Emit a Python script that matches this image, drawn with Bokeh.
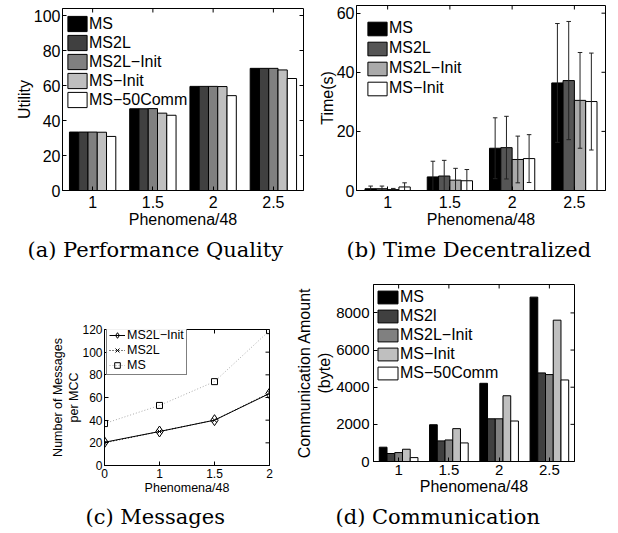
import math
from bokeh.plotting import figure
from bokeh.layouts import row, column
from bokeh.models import Range1d, FixedTicker, Legend, LegendItem, Title
from bokeh.embed import file_html
from bokeh.resources import INLINE

# ---------------- data ----------------
phenomena = [1, 1.5, 2, 2.5]

# (a) Performance Quality : Utility
util_names = ["MS", "MS2L", "MS2L\u2212Init", "MS\u2212Init", "MS\u221250Comm"]
util_ms = [33.4, 46.7, 59.5, 69.8]
util_ms2l = [33.4, 46.7, 59.5, 69.8]
util_ms2l_init = [33.4, 46.8, 59.5, 69.8]
util_ms_init = [33.3, 44.2, 59.4, 68.9]
util_ms_50comm = [30.9, 43.0, 54.2, 64.0]
util_ticks = [0, 20, 40, 60, 80, 100]

# (b) Time Decentralized : Time(s) with error bars
time_names = ["MS", "MS2L", "MS2L\u2212Init", "MS\u2212Init"]
time_ms = [0.6, 4.6, 14.3, 36.4]
time_ms2l = [0.6, 4.9, 14.5, 37.2]
time_ms2l_init = [0.3, 3.5, 10.5, 30.5]
time_ms_init = [1.2, 3.3, 10.8, 30.1]
time_err_ms = [0.9, 5.3, 10.3, 20.1]
time_err_ms2l = [0.9, 5.3, 10.6, 20.0]
time_err_ms2l_init = [0.4, 4.0, 7.9, 16.2]
time_err_ms_init = [1.4, 3.8, 8.1, 16.4]
time_ticks = [0, 20, 40, 60]

# (c) Messages
msg_x_labels = ["0", "1", "1.5", "2"]
msg_ms2l_init = [20.5, 30.0, 40.0, 63.5]
msg_ms2l = [20.0, 30.0, 40.0, 64.0]
msg_ms = [37.0, 53.0, 74.0, 119.0]
msg_ticks = [0, 20, 40, 60, 80, 100, 120]

# (d) Communication
comm_names = ["MS", "MS2l", "MS2L\u2212Init", "MS\u2212Init", "MS\u221250Comm"]
comm_ms = [770, 1980, 4210, 8850]
comm_ms2l = [430, 1110, 2300, 4770]
comm_ms2l_init = [480, 1160, 2300, 4680]
comm_ms_init = [660, 1770, 3540, 7610]
comm_ms_50comm = [210, 1000, 2180, 4390]
comm_ticks = [0, 2000, 4000, 6000, 8000]

# ---------------- styling ----------------
GRAY5 = ["#000000", "#404040", "#808080", "#bfbfbf", "#ffffff"]
GRAY4 = ["#000000", "#555555", "#aaaaaa", "#ffffff"]
SANS = "Liberation Sans"
SERIF = "DejaVu Serif"


def base_fig(width, height, left, right, top, bottom, xr, yr):
    p = figure(width=width, height=height, x_range=Range1d(*xr), y_range=Range1d(*yr),
               output_backend="svg", toolbar_location=None, frame_align=False,
               min_border_left=left, min_border_right=right,
               min_border_top=top, min_border_bottom=bottom)
    p.grid.visible = False
    p.outline_line_color = "black"
    p.outline_line_width = 1
    p.background_fill_color = "white"
    p.border_fill_color = "white"
    return p


def style_axes(p, xticks, yticks, tfs, lfs, xlabel, ylabel, xstand, ystand, xlab_stand, ylab_stand,
               xoverrides=None):
    p.xaxis.ticker = FixedTicker(ticks=xticks)
    p.yaxis.ticker = FixedTicker(ticks=yticks)
    if xoverrides:
        p.xaxis.major_label_overrides = xoverrides
    for ax in p.xaxis + p.yaxis:
        ax.major_tick_in = 4
        ax.major_tick_out = 0
        ax.minor_tick_line_color = None
        ax.axis_line_color = "black"
        ax.major_tick_line_color = "black"
        ax.major_label_text_font = SANS
        ax.major_label_text_font_size = tfs
        ax.major_label_text_color = "black"
        ax.axis_label_text_font = SANS
        ax.axis_label_text_font_size = lfs
        ax.axis_label_text_font_style = "normal"
        ax.axis_label_text_color = "black"
    p.xaxis.axis_label = xlabel
    p.yaxis.axis_label = ylabel
    p.xaxis.major_label_standoff = xstand
    p.yaxis.major_label_standoff = ystand
    p.xaxis.axis_label_standoff = xlab_stand
    p.yaxis.axis_label_standoff = ylab_stand
    # mirrored inward ticks on the top and right edges of the box (clipped to the frame)
    xr, yr = p.x_range, p.y_range
    p.scatter(x=[xr.end] * len(yticks), y=yticks, marker="dash", size=8,
              line_color="black", line_width=1)
    p.scatter(x=xticks, y=[yr.end] * len(xticks), marker="dash", size=8, angle=math.pi / 2,
              line_color="black", line_width=1)


def caption(p, text, offset, standoff):
    p.add_layout(Title(text=text, align="left", offset=offset, standoff=standoff,
                       text_font=SERIF, text_font_size="21px", text_font_style="normal",
                       text_color="black"), "below")


def bar_series(p, groups, series, names, colors, errs=None):
    n = len(series)
    spacing = groups[1] - groups[0]
    gw = spacing * min(0.8, n / (n + 1.5))
    bw = gw / n
    items = []
    for i, (vals, name, col) in enumerate(zip(series, names, colors)):
        xs = [g + (i - (n - 1) / 2) * bw for g in groups]
        r = p.vbar(x=xs, top=vals, width=bw, bottom=0, fill_color=col,
                   line_color="black", line_width=1)
        items.append(LegendItem(label=name, renderers=[r]))
        if errs is not None:
            e = errs[i]
            lo = [v - d for v, d in zip(vals, e)]
            hi = [v + d for v, d in zip(vals, e)]
            cap = bw * 0.2
            p.segment(x0=xs, y0=lo, x1=xs, y1=hi, line_color="#222222", line_width=1)
            p.segment(x0=[x - cap for x in xs], y0=hi, x1=[x + cap for x in xs], y1=hi,
                      line_color="#222222", line_width=1)
            p.segment(x0=[x - cap for x in xs], y0=lo, x1=[x + cap for x in xs], y1=lo,
                      line_color="#222222", line_width=1)
    return items


def bar_legend(items, fs, loc, gw, gh, lh, spacing):
    return Legend(items=items, location=loc, margin=0, padding=0,
                  glyph_width=gw, glyph_height=gh, label_height=lh, spacing=spacing,
                  label_standoff=0, label_text_font=SANS, label_text_font_size=fs,
                  label_text_color="black", border_line_alpha=0, background_fill_alpha=0)


# ---------------- (a) ----------------
pa = base_fig(309, 266, 62, 6, 8, 75, (0.75, 2.75), (0, 104))
items_a = bar_series(pa, phenomena,
                     [util_ms, util_ms2l, util_ms2l_init, util_ms_init, util_ms_50comm],
                     util_names, GRAY5)
style_axes(pa, phenomena, util_ticks, "16px", "16px", "Phenomena/48", "Utility", 5, 2, 0, -2)
lga = bar_legend(items_a, "16px", (3, 81), 24, 19, 19, 0)
lga.level = "underlay"
pa.add_layout(lga)
caption(pa, "(a) Performance Quality", -35, 10)

# ---------------- (b) ----------------
pb = base_fig(309, 266, 47, 13, 5, 75, (0.75, 2.75), (0, 62.6))
items_b = bar_series(pb, phenomena, [time_ms, time_ms2l, time_ms2l_init, time_ms_init],
                     time_names, GRAY4,
                     errs=[time_err_ms, time_err_ms2l, time_err_ms2l_init, time_err_ms_init])
style_axes(pb, phenomena, time_ticks, "16px", "16px", "Phenomena/48", "Time(s)", 5, 2, 0, -2)
pb.add_layout(bar_legend(items_b, "16px", (9, 93), 24, 17, 18, 2))
caption(pb, "(b) Time Decentralized", -10, 10)

# ---------------- (c) ----------------
pc = base_fig(289, 267, 104, 20, 63, 64, (0, 3), (0, 120))
xc = list(range(len(msg_x_labels)))
l1 = pc.line(xc, msg_ms2l_init, line_color="black", line_width=1)
m1 = pc.scatter(xc, msg_ms2l_init, marker="diamond", size=11, fill_color=None,
                line_color="black", line_width=1)
l2 = pc.line(xc, msg_ms2l, line_color="black", line_width=1, line_dash="1 2")
m2 = pc.scatter(xc, msg_ms2l, marker="x", size=6, line_color="black", line_width=1)
l3 = pc.line(xc, msg_ms, line_color="#aaaaaa", line_width=1, line_dash="1 2")
m3 = pc.scatter(xc, msg_ms, marker="square", size=6, fill_color=None,
                line_color="black", line_width=1)
style_axes(pc, xc, msg_ticks, "12px", "12.5px", "Phenomena/48",
           "Number of Messages\nper MCC", 3, 2, 0, -2,
           xoverrides={i: s for i, s in enumerate(msg_x_labels)})
lgc = Legend(items=[LegendItem(label="MS2L\u2212Init", renderers=[l1, m1]),
                    LegendItem(label="MS2L", renderers=[l2, m2]),
                    LegendItem(label="MS", renderers=[l3, m3])],
             location=(2, 90), margin=0, padding=2, glyph_width=16, glyph_height=14,
             label_height=14, spacing=1, label_standoff=2, label_text_font=SANS,
             label_text_font_size="12.5px", label_text_color="black",
             border_line_color="black", border_line_width=1, background_fill_color="white")
pc.add_layout(lgc)
caption(pc, "(c) Messages", -19, 10)

# ---------------- (d) ----------------
pd_ = base_fig(329, 267, 84, 44, 18, 71, (0.75, 2.75), (0, 9530))
items_d = bar_series(pd_, phenomena,
                     [comm_ms, comm_ms2l, comm_ms2l_init, comm_ms_init, comm_ms_50comm],
                     comm_names, GRAY5)
style_axes(pd_, phenomena, comm_ticks, "15px", "16px", "Phenomena/48",
           "Communication Amount\n(byte)", 3, 4, 0, 0)
pd_.add_layout(bar_legend(items_d, "16px", (2, 79), 25, 16, 18, 1))
caption(pd_, "(d) Communication", -38, 10)

layout = column(row(pa, pb, spacing=0), row(pc, pd_, spacing=0), spacing=0)

open("out.html", "w").write(file_html(layout, INLINE))
